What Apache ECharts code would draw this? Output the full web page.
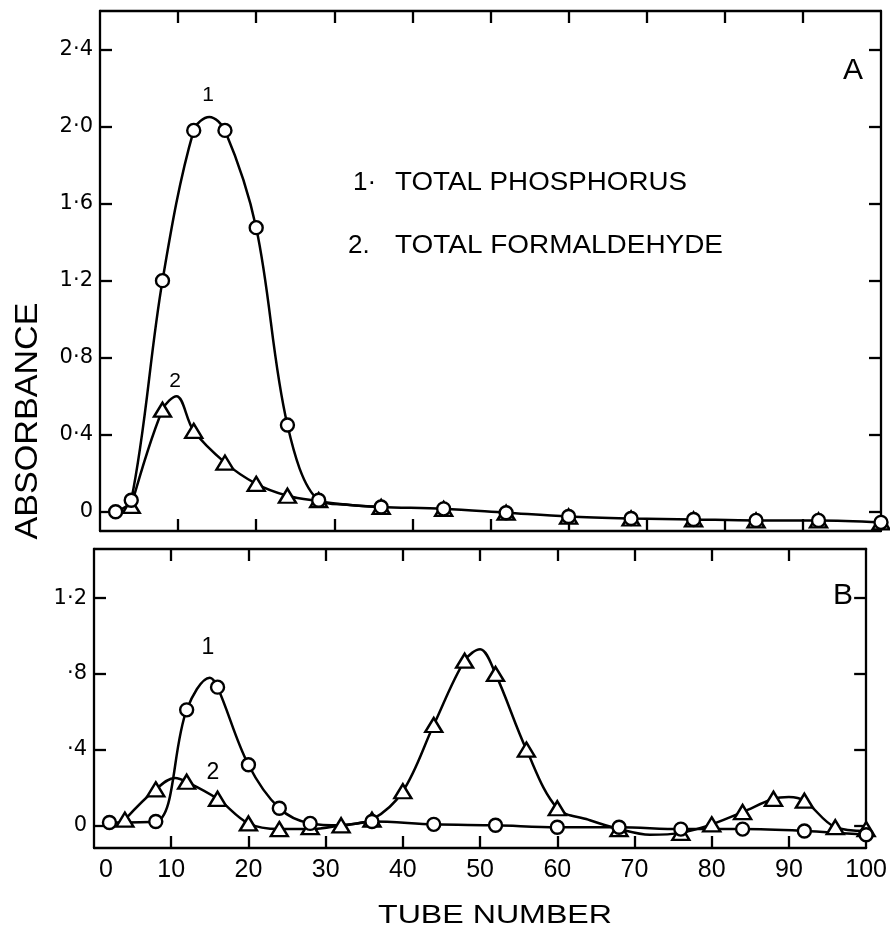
<!DOCTYPE html>
<html><head><meta charset="utf-8">
<script src="https://cdn.jsdelivr.net/npm/echarts@6/dist/echarts.min.js"></script>
<style>html,body{margin:0;padding:0;background:#fff}#c{width:890px;height:928px}</style>
</head><body><div id="c"></div>
<script>
// ---------- DATA ----------
// Panel A : markers
const tubesA_P = [2, 4, 8, 12, 16, 20, 24, 28, 36, 44, 52, 60, 68, 76, 84, 92, 100];
const valsA_P  = [0, 0.06, 1.2, 1.98, 1.98, 1.475, 0.45, 0.06, 0.025, 0.015, -0.005, -0.025, -0.035, -0.04, -0.045, -0.045, -0.055];
const tubesA_F = [4, 8, 12, 16, 20, 24, 28, 36, 44, 52, 60, 68, 76, 84, 92, 100];
const valsA_F  = [0.03, 0.53, 0.42, 0.255, 0.145, 0.083, 0.06, 0.025, 0.015, -0.005, -0.025, -0.035, -0.04, -0.045, -0.045, -0.055];
// Panel A : drawn curves (incl. peaks)
const curveA_P_x = [2, 4, 8, 12, 14, 16, 20, 24, 28, 32, 36, 44, 52, 60, 68, 76, 84, 92, 100];
const curveA_P_y = [0, 0.06, 1.2, 1.98, 2.05, 1.98, 1.475, 0.45, 0.06, 0.035, 0.025, 0.015, -0.005, -0.025, -0.035, -0.04, -0.045, -0.045, -0.055];
const curveA_F_x = [4, 8, 9.8, 12, 16, 20, 24, 28, 32, 36];
const curveA_F_y = [0.03, 0.53, 0.6, 0.42, 0.255, 0.145, 0.083, 0.055, 0.035, 0.025];

// Panel B : markers
const tubesB_P = [2, 8, 12, 16, 20, 24, 28, 36, 44, 52, 60, 68, 76, 84, 92, 100];
const valsB_P  = [0.015, 0.02, 0.61, 0.73, 0.32, 0.09, 0.01, 0.02, 0.005, 0.0, -0.01, -0.01, -0.02, -0.02, -0.03, -0.05];
const tubesB_F = [4, 8, 12, 16, 20, 24, 28, 32, 36, 40, 44, 48, 52, 56, 60, 68, 76, 80, 84, 88, 92, 96, 100];
const valsB_F  = [0.03, 0.19, 0.23, 0.14, 0.01, -0.02, -0.01, 0.0, 0.03, 0.18, 0.53, 0.87, 0.8, 0.4, 0.09, -0.02, -0.04, 0.005, 0.07, 0.14, 0.13, -0.01, -0.02];
// Panel B : drawn curves
const curveB_P_x = [2, 8, 12, 15, 16, 20, 24, 28, 32, 36, 44, 52, 60, 68, 76, 84, 92, 100];
const curveB_P_y = [0.015, 0.02, 0.61, 0.78, 0.73, 0.32, 0.09, 0.01, 0.0, 0.02, 0.005, 0.0, -0.01, -0.01, -0.02, -0.02, -0.03, -0.05];
const curveB_F_x = [4, 8, 10.5, 12, 16, 20, 24, 28, 32, 36, 40, 44, 48, 50, 52, 56, 60, 64, 68, 72, 76, 80, 84, 88, 90, 92, 96, 100];
const curveB_F_y = [0.03, 0.19, 0.25, 0.23, 0.14, 0.01, -0.02, -0.02, 0.0, 0.03, 0.18, 0.53, 0.87, 0.93, 0.8, 0.4, 0.09, 0.03, -0.02, -0.05, -0.04, 0.005, 0.07, 0.14, 0.15, 0.13, -0.01, -0.03];

// Ticks / labels
const xTicks = [10, 20, 30, 40, 50, 60, 70, 80, 90];
const xLabels = [0, 10, 20, 30, 40, 50, 60, 70, 80, 90, 100];
const yTicksA = [0, 0.4, 0.8, 1.2, 1.6, 2.0, 2.4];
const yTicksB = [0, 0.4, 0.8, 1.2];
const fmtA = v => v === 0 ? '0' : v.toFixed(1).replace('.', '·');
const fmtB = v => v === 0 ? '0' : (v < 1 ? v.toFixed(1).replace(/^0\./, '·') : v.toFixed(1).replace('.', '·'));

// ---------- CHART ----------
const chart = echarts.init(document.getElementById('c'), null, {renderer: 'canvas'});
const K = '#000';
const lineSty = {color: K, width: 2.3};

function xAx(grid, pos, labels) {
  return {
    type: 'value', gridIndex: grid, position: pos, min: 0, max: 100,
    axisLine: {show: true, onZero: false, lineStyle: lineSty},
    axisTick: {show: true, inside: true, length: 12, lineStyle: lineSty, customValues: xTicks},
    axisLabel: labels ? {
      show: true, customValues: xLabels, margin: 10, color: K,
      fontFamily: 'Liberation Sans', fontSize: 25,
      formatter: v => v === 0 ? '{z|0}' : String(v),
      rich: {z: {padding: [0, 0, 0, 24], fontFamily: 'Liberation Sans', fontSize: 25, color: K}}
    } : {show: false},
    splitLine: {show: false}
  };
}
function yAx(grid, pos, min, max, ticks, fmt) {
  return {
    type: 'value', gridIndex: grid, position: pos, min: min, max: max,
    axisLine: {show: true, onZero: false, lineStyle: lineSty},
    axisTick: {show: true, inside: true, length: 12, lineStyle: lineSty, customValues: ticks},
    axisLabel: fmt ? {
      show: true, customValues: ticks, margin: 7, color: K,
      fontFamily: 'DejaVu Sans', fontSize: 21, formatter: fmt
    } : {show: false},
    splitLine: {show: false}
  };
}
const pair = (xs, ys) => xs.map((x, i) => [x, ys[i]]);
function curve(xi, yi, xs, ys) {
  return {type: 'line', xAxisIndex: xi, yAxisIndex: yi, data: pair(xs, ys), smooth: 0.35,
    showSymbol: false, symbol: 'none', lineStyle: {color: K, width: 2.5}, z: 2, silent: true};
}
function marks(xi, yi, xs, ys, sym) {
  return {type: 'scatter', xAxisIndex: xi, yAxisIndex: yi, data: pair(xs, ys),
    symbol: sym, symbolSize: sym === 'circle' ? 13 : [17, 14],
    itemStyle: {color: '#fff', borderColor: K, borderWidth: 2.4, opacity: 1}, z: 3, silent: true};
}

// text fitting helper
const cv = document.createElement('canvas').getContext('2d');
function fit(text, size, fam, target) { cv.font = size + 'px ' + fam; return target / cv.measureText(text).width; }
function txt(text, x, y, size, opts) {
  opts = opts || {};
  const fam = opts.fam || 'Liberation Sans';
  const el = {type: 'text', x: x, y: y, z: 10,
    style: {text: text, fontSize: size, fontFamily: fam, fill: K, fontWeight: opts.weight || 'normal',
      textAlign: opts.align || 'left', textVerticalAlign: 'middle'}};
  if (opts.width) el.scaleX = fit(text, size, fam, opts.width);
  if (opts.rot) el.rotation = opts.rot;
  return el;
}

chart.setOption({
  animation: false,
  backgroundColor: '#fff',
  grid: [
    {left: 100, top: 11, width: 781, height: 520},
    {left: 94, top: 549, width: 779, height: 299}
  ],
  xAxis: [xAx(0, 'bottom', false), xAx(0, 'top', false), xAx(1, 'bottom', true), xAx(1, 'top', false)],
  yAxis: [yAx(0, 'left', -0.1, 2.6, yTicksA, fmtA), yAx(0, 'right', -0.1, 2.6, yTicksA, null),
          yAx(1, 'left', -0.12, 1.46, yTicksB, fmtB), yAx(1, 'right', -0.12, 1.46, yTicksB, null)],
  series: [
    curve(0, 0, curveA_P_x, curveA_P_y),
    curve(0, 0, curveA_F_x, curveA_F_y),
    marks(0, 0, tubesA_F, valsA_F, 'triangle'),
    marks(0, 0, tubesA_P, valsA_P, 'circle'),
    curve(2, 2, curveB_P_x, curveB_P_y),
    curve(2, 2, curveB_F_x, curveB_F_y),
    marks(2, 2, tubesB_F, valsB_F, 'triangle'),
    marks(2, 2, tubesB_P, valsB_P, 'circle')
  ],
  graphic: [
    txt('A', 853, 71, 30, {align: 'center'}),
    txt('B', 843, 596, 30, {align: 'center'}),
    txt('1·', 353, 183, 26),
    txt('TOTAL PHOSPHORUS', 395, 183, 26, {width: 292}),
    txt('2.', 348, 246, 26),
    txt('TOTAL FORMALDEHYDE', 395, 246, 26, {width: 328}),
    txt('1', 208, 95, 21, {align: 'center'}),
    txt('2', 175, 381, 21, {align: 'center'}),
    txt('1', 208, 648, 23, {align: 'center'}),
    txt('2', 213, 773, 23, {align: 'center'}),
    txt('TUBE NUMBER', 378, 916, 25, {width: 234}),
    txt('ABSORBANCE', 28, 421, 31, {align: 'center', width: 237, rot: Math.PI / 2})
  ]
});
</script></body></html>
